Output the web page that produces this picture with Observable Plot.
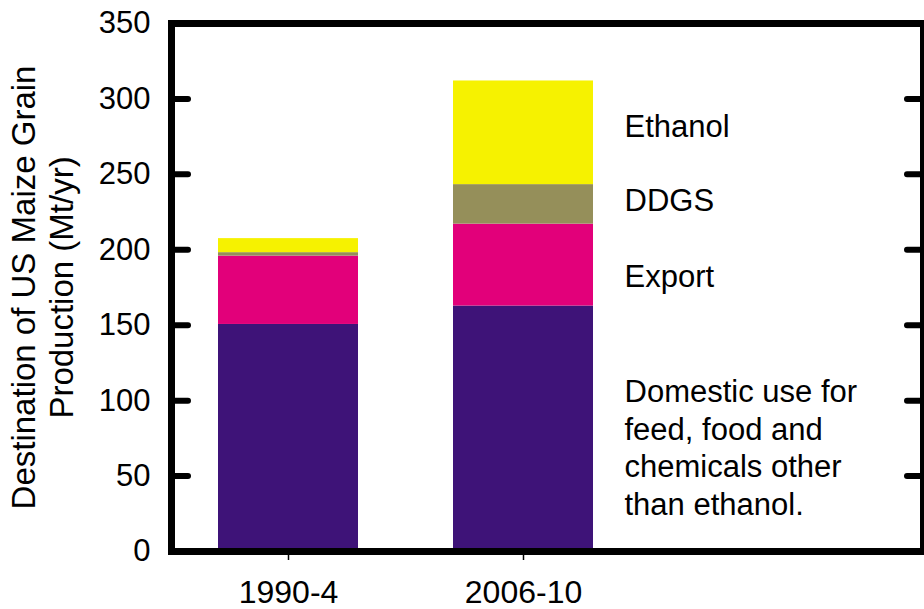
<!DOCTYPE html>
<html>
<head>
<meta charset="utf-8">
<script src="https://cdn.jsdelivr.net/npm/d3@7"></script>
<script src="https://cdn.jsdelivr.net/npm/@observablehq/plot@0.6"></script>
<style>
  html, body { margin: 0; padding: 0; background: #fff; }
</style>
</head>
<body>
<div id="chart"></div>
<script>
const periods = ["1990-4", "2006-10"];
const categories = ["Domestic", "Export", "DDGS", "Ethanol"];
const domestic = [150.5, 162.7];
const exportVals = [45.3, 54.3];
const ddgs = [2.3, 26.2];
const ethanol = [9.3, 68.7];
const colors = ["#3e1378", "#e2007a", "#958f5a", "#f6f200"];
const yTicks = [0, 50, 100, 150, 200, 250, 300, 350];
const labelTexts = ["Ethanol", "DDGS", "Export", "Domestic use for\nfeed, food and\nchemicals other\nthan ethanol."];
const labelY = [282.5, 233.4, 183, 69.6];
const titleLines = ["Destination of US Maize Grain", "Production (Mt/yr)"];

const seriesValues = [domestic, exportVals, ddgs, ethanol];
const rows = [];
categories.forEach((c, ci) => periods.forEach((p, pi) => rows.push({period: p, category: c, value: seriesValues[ci][pi]})));
const labels = labelTexts.map((t, i) => ({text: t, y: labelY[i], period: periods[1]}));

const font = "'Liberation Sans', Arial, Helvetica, sans-serif";

const chart = Plot.plot({
  width: 924,
  height: 609,
  marginLeft: 171,
  marginRight: 1,
  marginTop: 23,
  marginBottom: 58,
  style: {fontFamily: font, background: "#fff", color: "#000"},
  x: {domain: periods, paddingInner: 0.403, paddingOuter: 0.798, align: 0.125, label: null},
  y: {domain: [0, 350], label: null},
  color: {domain: categories, range: colors},
  marks: [
    Plot.barY(rows, {x: "period", y: "value", fill: "category", order: categories}),
    Plot.frame({stroke: "#000", strokeWidth: 7}),
    Plot.axisY(yTicks, {anchor: "left", tickSize: 0, tickPadding: 21, fontSize: 31, label: null}),
    Plot.axisY(yTicks, {anchor: "left", tickSize: -17, tickFormat: () => "", strokeWidth: 6, strokeLinecap: "round", label: null}),
    Plot.axisY(yTicks, {anchor: "right", tickSize: -17, tickFormat: () => "", strokeWidth: 6, strokeLinecap: "round", label: null}),
    Plot.axisX(periods, {anchor: "bottom", tickSize: 9, tickPadding: 20, fontSize: 32, strokeWidth: 1.5, label: null}),
    Plot.text(labels, {x: "period", y: "y", text: "text", dx: 101, textAnchor: "start", lineAnchor: "middle", lineHeight: 1.21, fontSize: 31, fill: "#000"}),
    Plot.text([titleLines[0]], {text: d => d, frameAnchor: "left", textAnchor: "middle", rotate: -90, dx: -147, fontSize: 33, fill: "#000"}),
    Plot.text([titleLines[1]], {text: d => d, frameAnchor: "left", textAnchor: "middle", rotate: -90, dx: -109, fontSize: 33, fill: "#000"})
  ]
});
document.getElementById("chart").appendChild(chart);
</script>
</body>
</html>
